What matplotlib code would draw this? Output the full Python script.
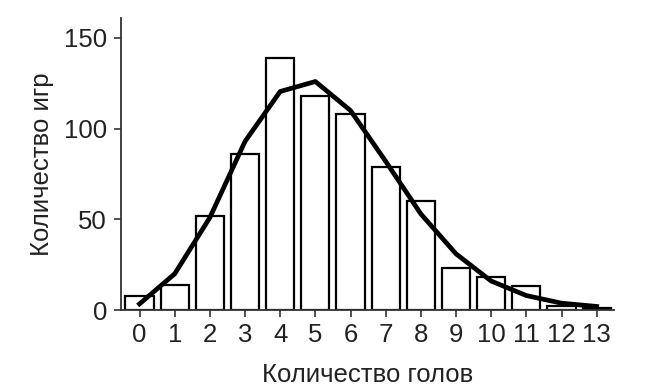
import matplotlib
matplotlib.use("Agg")
import matplotlib.pyplot as plt

goals = list(range(14))
games = [8, 14, 52, 86, 139, 118, 108, 79, 60, 23, 18, 13, 2, 1]
fit = [3.4, 20, 51, 93, 120.5, 126, 110, 82, 53, 31, 16, 8, 3.8, 2]

plt.rcParams['font.family'] = ['Liberation Sans', 'DejaVu Sans']

fig = plt.figure(figsize=(6.5, 3.92), dpi=100)
ax = fig.add_axes([0.186, 0.209, 0.759, 0.745])
ax.bar(goals, games, width=0.8, facecolor='white', edgecolor='black', linewidth=1.6, zorder=2)
ax.plot(goals, fit, color='black', linewidth=3.4, zorder=3)

ax.set_xlim(-0.53, 13.5)
ax.set_ylim(0, 161)
ax.set_xticks(goals)
ax.set_yticks([0, 50, 100, 150])
ax.spines['top'].set_visible(False)
ax.spines['right'].set_visible(False)
for s in ['left', 'bottom']:
    ax.spines[s].set_linewidth(1.3)
    ax.spines[s].set_color('#333333')
ax.tick_params(axis='both', labelsize=18.5, width=1.2, length=5, color='#333333', labelcolor='#222222')
ax.tick_params(axis='y', pad=5)
ax.tick_params(axis='x', pad=4.5)
ax.set_xlabel('Количество голов', fontsize=18.5, labelpad=11, color='#222222')
ax.set_ylabel('Количество игр', fontsize=18.5, labelpad=7, color='#222222')

fig.savefig('out.png', dpi=100)
